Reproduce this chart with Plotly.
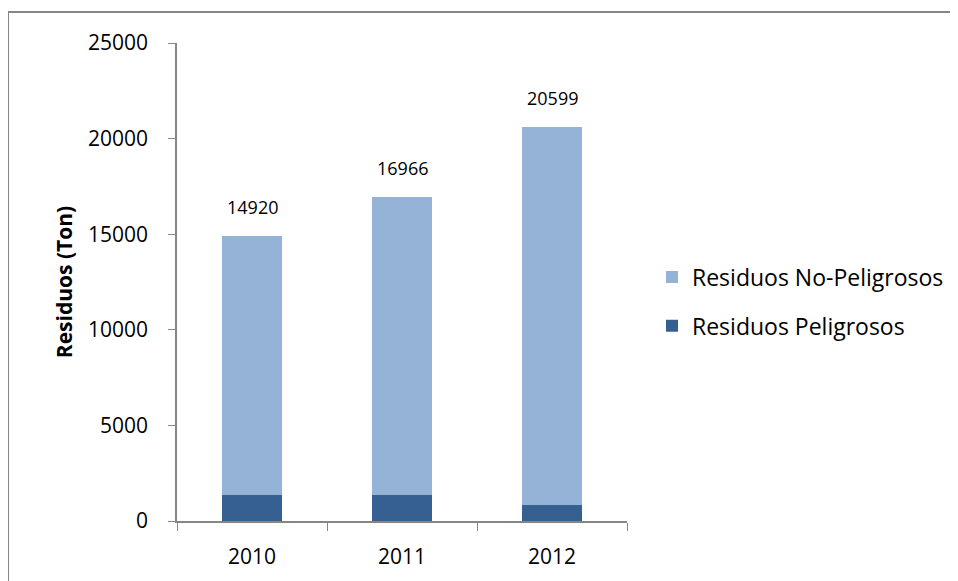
import plotly.graph_objects as go

years = ["2010", "2011", "2012"]
totals = [14920, 16966, 20599]
peligrosos = [1370, 1340, 840]
no_peligrosos = [t - p for t, p in zip(totals, peligrosos)]

FONT = "Open Sans"
AXIS_COLOR = "#868686"

# the page adds an 8px body margin; figure is sized/offset to compensate
W, H = 950, 573
ML, MR, MT, MB = 169, 331, 35, 60
PW, PH = W - ML - MR, H - MT - MB

fig = go.Figure()
fig.add_trace(go.Bar(
    x=years, y=peligrosos, name="Residuos Peligrosos",
    marker=dict(color="#376092", line=dict(width=0)),
    legendgroup="a", legendrank=2,
))
fig.add_trace(go.Bar(
    x=years, y=no_peligrosos, name="Residuos No-Peligrosos",
    marker=dict(color="#95B3D7", line=dict(width=0)),
    legendgroup="b", legendrank=1,
))

# category axis: annotations positioned by category index
for i, tot in enumerate(totals):
    fig.add_annotation(x=i, y=tot, xref="x", yref="y", text=str(tot), showarrow=False,
                       yshift=29, font=dict(family=FONT, size=18, color="#000000"))

fig.add_shape(type="rect", xref="paper", yref="paper",
              x0=(0 - ML) / PW, x1=(W + 20 - ML) / PW,
              y0=-(MB + 20) / PH, y1=(H - MB - 4) / PH,
              line=dict(color=AXIS_COLOR, width=2), fillcolor="rgba(0,0,0,0)",
              layer="below")

fig.update_layout(
    width=W, height=H,
    margin=dict(l=ML, r=MR, t=MT, b=MB, autoexpand=False),
    barmode="stack", bargap=0.6,
    plot_bgcolor="white", paper_bgcolor="white",
    font=dict(family=FONT, size=21, color="#000000"),
    showlegend=True,
    legend=dict(
        traceorder="grouped", tracegroupgap=16,
        x=(652 - 177) / PW, y=(521 - 301.5) / PH, xanchor="left", yanchor="middle",
        font=dict(family=FONT, size=23),
        itemwidth=30, bgcolor="rgba(0,0,0,0)",
    ),
    xaxis=dict(
        type="category", range=[-0.5, 2.5],
        showline=True, linecolor=AXIS_COLOR, linewidth=1.5,
        ticks="outside", tickson="boundaries", ticklen=8, tickcolor=AXIS_COLOR,
        ticklabelstandoff=16, showgrid=False,
        tickfont=dict(family=FONT, size=21),
    ),
    yaxis=dict(
        range=[0, 25000], dtick=5000, tick0=0, tickformat="d",
        showline=True, linecolor=AXIS_COLOR, linewidth=1.5,
        ticks="outside", ticklen=7, tickcolor=AXIS_COLOR,
        ticklabelstandoff=16, showgrid=False, zeroline=False,
        tickfont=dict(family=FONT, size=21),
        title=dict(text="<b>Residuos (Ton)</b>", standoff=10,
                   font=dict(family=FONT, size=21)),
    ),
)

fig.write_html("out.html")
